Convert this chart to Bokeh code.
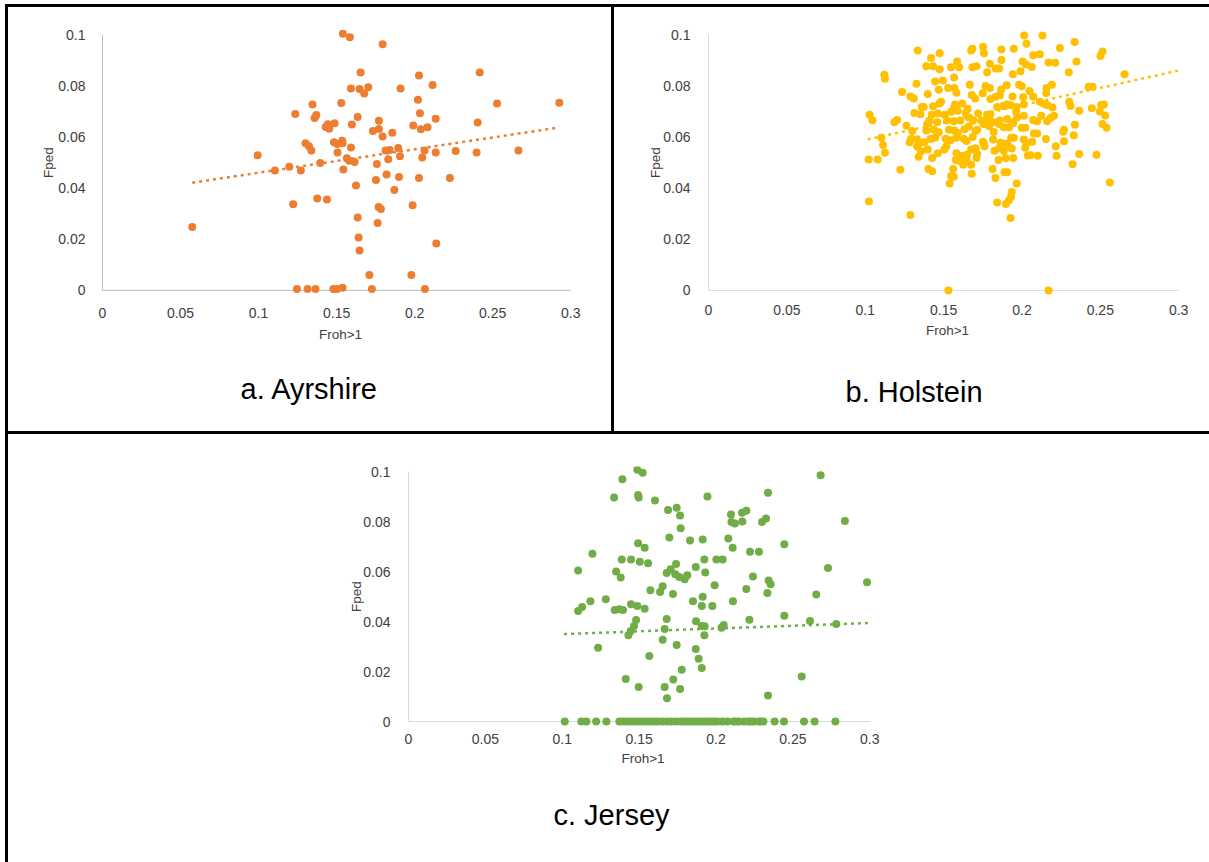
from bokeh.plotting import figure
from bokeh.models import Spacer, Title, NumeralTickFormatter, FixedTicker
from bokeh.layouts import row, column
from bokeh.embed import file_html
from bokeh.resources import INLINE

FONT = "Liberation Sans"
TEXT_COLOR = "#404040"

# Shared axis ticks
x_ticks = [0, 0.05, 0.1, 0.15, 0.2, 0.25, 0.3]
y_ticks = [0, 0.02, 0.04, 0.06, 0.08, 0.1]
x_title = "Froh>1"
y_title = "Fped"

# ---------------- Ayrshire ----------------
ayr_froh = [0.154, 0.1585, 0.1795, 0.1654, 0.2028, 0.2417, 0.2115, 0.1592, 0.1647, 0.1703,
            0.1677, 0.191, 0.1346, 0.153, 0.2021, 0.2528, 0.2927, 0.1235, 0.2034, 0.1359,
            0.137, 0.1635, 0.1771, 0.2135, 0.2404, 0.143, 0.1444, 0.1453, 0.1487, 0.1598,
            0.1733, 0.1771, 0.1795, 0.1857, 0.1991, 0.204, 0.2083, 0.1301, 0.1323, 0.1338,
            0.1483, 0.1504, 0.1536, 0.1538, 0.1506, 0.1592, 0.1566, 0.1581, 0.1615, 0.1543,
            0.1395, 0.1271, 0.1197, 0.1105, 0.0994, 0.0575, 0.1814, 0.184, 0.1895, 0.1906,
            0.1831, 0.1758, 0.2064, 0.2049, 0.2135, 0.2263, 0.2397, 0.2665, 0.182, 0.190,
            0.1752, 0.2028, 0.2226, 0.1624, 0.187, 0.1222, 0.1376, 0.1438, 0.1769, 0.1784,
            0.1987, 0.1635, 0.1763, 0.1641, 0.1647, 0.2139, 0.171, 0.1979,
            0.1246, 0.1314, 0.1365, 0.1479, 0.1502, 0.1538, 0.1726, 0.2066]
ayr_fped = [0.1003, 0.099, 0.0962, 0.0852, 0.0840, 0.0852, 0.0803, 0.0789, 0.0787, 0.0794,
            0.0770, 0.0789, 0.0727, 0.0733, 0.0745, 0.0731, 0.0734, 0.0690, 0.0693, 0.0674,
            0.0686, 0.0678, 0.0663, 0.0671, 0.0656, 0.0639, 0.0650, 0.0632, 0.0653, 0.0649,
            0.0623, 0.0631, 0.0602, 0.0616, 0.0645, 0.0630, 0.0638, 0.0575, 0.0564, 0.0547,
            0.0579, 0.0572, 0.0585, 0.0575, 0.0539, 0.0559, 0.0517, 0.0507, 0.0502, 0.0473,
            0.0498, 0.0469, 0.0483, 0.0469, 0.0528, 0.0248, 0.0547, 0.0549, 0.0557, 0.0524,
            0.0513, 0.0494, 0.0547, 0.0520, 0.0539, 0.0545, 0.0539, 0.0547, 0.0453, 0.0443,
            0.0432, 0.0439, 0.0439, 0.0410, 0.0392, 0.0337, 0.0359, 0.0355, 0.0326, 0.0318,
            0.0333, 0.0285, 0.0263, 0.0207, 0.0156, 0.0183, 0.0060, 0.0060,
            0.0005, 0.0005, 0.0005, 0.0005, 0.0005, 0.0010, 0.0005, 0.0005]
ayr_trend_x = [0.0575, 0.2927]
ayr_trend_y = [0.0421, 0.0637]

# ---------------- Holstein ----------------
hol_froh = [0.2014, 0.2131, 0.2029, 0.2336, 0.2242, 0.1335, 0.1475, 0.1684, 0.1676, 0.1752,
            0.1758, 0.1869, 0.1948, 0.2514, 0.2501, 0.2072, 0.2114, 0.1420, 0.1586, 0.1869,
            0.1795, 0.2004, 0.2027, 0.2063, 0.2170, 0.2212, 0.2348, 0.1390, 0.1433, 0.1475,
            0.1548, 0.1599, 0.1684, 0.1710, 0.1778, 0.1833, 0.1855, 0.1942, 0.1991, 0.2299,
            0.1122, 0.1126, 0.1567, 0.1446, 0.1495, 0.1667, 0.1767, 0.1795, 0.1867, 0.1903,
            0.1982, 0.1999, 0.2157, 0.2191, 0.1327, 0.1529, 0.1569, 0.1582, 0.1399, 0.1469,
            0.1235, 0.1288, 0.1310, 0.1680, 0.1701, 0.1750, 0.1799, 0.1833, 0.1859, 0.1940,
            0.2008, 0.2048, 0.2072, 0.2155, 0.2425, 0.2450, 0.2655, 0.1484, 0.1473, 0.1573,
            0.1618, 0.1569, 0.1654, 0.1361, 0.1373, 0.1433, 0.1314, 0.1352, 0.1424, 0.1463,
            0.1507, 0.1548, 0.1590, 0.1641, 0.1720, 0.1778, 0.1799, 0.1842, 0.1880, 0.1906,
            0.1927, 0.1965, 0.1963, 0.2012, 0.2114, 0.2140, 0.2161, 0.2195, 0.2302, 0.2310,
            0.2446, 0.2506, 0.2523, 0.2497, 0.2531, 0.2365, 0.1028, 0.1046, 0.1186, 0.1203,
            0.1263, 0.1410, 0.1395, 0.1459, 0.1522, 0.1565, 0.1607, 0.1661, 0.1689, 0.1740,
            0.1756, 0.1789, 0.1816, 0.1859, 0.1906, 0.1944, 0.1969, 0.2012, 0.2072, 0.2097,
            0.2123, 0.2161, 0.2182, 0.2204, 0.2514, 0.2540, 0.2338, 0.2268, 0.2263, 0.1301,
            0.1390, 0.1437, 0.1469, 0.1535, 0.1569, 0.1590, 0.1633, 0.1661, 0.1714, 0.1765,
            0.1791, 0.1820, 0.1854, 0.1884, 0.1918, 0.1944, 0.1999, 0.2021, 0.2076, 0.2097,
            0.1103, 0.1293, 0.1284, 0.1331, 0.1348, 0.1378, 0.1416, 0.1446, 0.1514, 0.1544,
            0.1580, 0.1629, 0.1646, 0.1686, 0.1705, 0.1752, 0.1816, 0.1863, 0.1901, 0.1931,
            0.1948, 0.2012, 0.2029, 0.2065, 0.2153, 0.2268, 0.2331, 0.1114, 0.1126, 0.1331,
            0.1356, 0.1399, 0.1463, 0.1518, 0.1505, 0.1582, 0.1618, 0.1650, 0.1676, 0.1705,
            0.1714, 0.1756, 0.1761, 0.1825, 0.1854, 0.1884, 0.1910, 0.1935, 0.2021, 0.2216,
            0.2038, 0.2055, 0.2101, 0.2221, 0.2365, 0.2476, 0.1022, 0.1080, 0.1341, 0.1427,
            0.1578, 0.1608, 0.1625, 0.1646, 0.1676, 0.1710, 0.1850, 0.1897, 0.1944, 0.1403,
            0.1427, 0.1561, 0.1224, 0.2323, 0.1680, 0.1812, 0.1888, 0.1906, 0.1548, 0.1565,
            0.1831, 0.1539, 0.1967, 0.2561, 0.1935, 0.1931, 0.1918, 0.1024, 0.1842, 0.1897,
            0.1927, 0.1288, 0.1531, 0.2170]
hol_fped = [0.0997, 0.0997, 0.0964, 0.0971, 0.0948, 0.0938, 0.0927, 0.0945, 0.0938, 0.0953,
            0.0927, 0.0942, 0.0945, 0.0934, 0.0916, 0.0919, 0.0923, 0.0909, 0.0895, 0.0901,
            0.0886, 0.0895, 0.0883, 0.0873, 0.0891, 0.0890, 0.0895, 0.0876, 0.0876, 0.0865,
            0.0872, 0.0872, 0.0872, 0.0876, 0.0853, 0.0868, 0.0868, 0.0845, 0.0857, 0.0853,
            0.0843, 0.0827, 0.0832, 0.0817, 0.0821, 0.0804, 0.0799, 0.0791, 0.0785, 0.0802,
            0.0804, 0.0798, 0.0791, 0.0804, 0.0808, 0.0791, 0.0791, 0.0773, 0.0768, 0.0784,
            0.0776, 0.0758, 0.0750, 0.0764, 0.0750, 0.0771, 0.0748, 0.0757, 0.0763, 0.0758,
            0.0755, 0.0780, 0.0757, 0.0772, 0.0796, 0.0796, 0.0845, 0.0738, 0.0731, 0.0727,
            0.0731, 0.0715, 0.0710, 0.0717, 0.0717, 0.0720, 0.0694, 0.0689, 0.0687, 0.0692,
            0.0687, 0.0698, 0.0702, 0.0694, 0.0692, 0.0687, 0.0689, 0.0717, 0.0721, 0.0727,
            0.0724, 0.0717, 0.0699, 0.0727, 0.0738, 0.0730, 0.0725, 0.0715, 0.0738, 0.0721,
            0.0712, 0.0725, 0.0727, 0.0699, 0.0684, 0.0702, 0.0687, 0.0665, 0.0657, 0.0666,
            0.0644, 0.0664, 0.0651, 0.0657, 0.0664, 0.0661, 0.0664, 0.0676, 0.0664, 0.0664,
            0.0651, 0.0674, 0.0657, 0.0664, 0.0670, 0.0657, 0.0676, 0.0683, 0.0666, 0.0661,
            0.0683, 0.0661, 0.0674, 0.0683, 0.0651, 0.0636, 0.0648, 0.0628, 0.0620, 0.0623,
            0.0625, 0.0628, 0.0618, 0.0628, 0.0625, 0.0615, 0.0630, 0.0641, 0.0628, 0.0651,
            0.0643, 0.0619, 0.0651, 0.0638, 0.0638, 0.0653, 0.0636, 0.0636, 0.0613, 0.0613,
            0.0597, 0.0593, 0.0579, 0.0591, 0.0577, 0.0579, 0.0592, 0.0597, 0.0593, 0.0587,
            0.0597, 0.0593, 0.0584, 0.0600, 0.0623, 0.0581, 0.0590, 0.0577, 0.0574, 0.0597,
            0.0597, 0.0590, 0.0574, 0.0581, 0.0592, 0.0583, 0.0607, 0.0568, 0.0538, 0.0563,
            0.0544, 0.0551, 0.0536, 0.0564, 0.0551, 0.0536, 0.0526, 0.0530, 0.0551, 0.0556,
            0.0533, 0.0574, 0.0564, 0.0546, 0.0555, 0.0545, 0.0567, 0.0555, 0.0558, 0.0564,
            0.0527, 0.0528, 0.0526, 0.0526, 0.0533, 0.0530, 0.0512, 0.0512, 0.0522, 0.0518,
            0.0510, 0.0505, 0.0491, 0.0508, 0.0491, 0.0518, 0.0510, 0.0517, 0.0518, 0.0475,
            0.0466, 0.0475, 0.0472, 0.0493, 0.0456, 0.0475, 0.0462, 0.0462, 0.0447, 0.0444,
            0.0439, 0.0418, 0.0418, 0.0422, 0.0385, 0.0367, 0.0352, 0.0348, 0.0344, 0.0338,
            0.0283, 0.0295, 0.0, 0.0]
hol_trend_x = [0.1016, 0.2995]
hol_trend_y = [0.0590, 0.0859]

# ---------------- Jersey ----------------
jer_froh = [0.1488, 0.1523, 0.1391, 0.2680, 0.1337, 0.1493, 0.1497, 0.1603, 0.1944, 0.2338,
            0.1688, 0.1744, 0.1766, 0.1770, 0.2097, 0.2100, 0.2123, 0.2169, 0.2197, 0.2171,
            0.2299, 0.2325, 0.2838, 0.1696, 0.1831, 0.1913, 0.2080, 0.2108, 0.2444, 0.1493,
            0.1536, 0.1196, 0.1387, 0.1447, 0.1504, 0.1558, 0.2221, 0.2279, 0.1924, 0.2002,
            0.2043, 0.1103, 0.1350, 0.1380, 0.1679, 0.1705, 0.1740, 0.1735, 0.1761, 0.1796,
            0.1813, 0.1868, 0.1930, 0.1991, 0.2240, 0.2342, 0.2355, 0.2728, 0.2982, 0.1573,
            0.1636, 0.1653, 0.1720, 0.2197, 0.2334, 0.2652, 0.1103, 0.1129, 0.1183, 0.1283,
            0.1341, 0.1371, 0.1395, 0.1447, 0.1488, 0.1536, 0.1850, 0.1913, 0.1907, 0.1976,
            0.2110, 0.2444, 0.2611, 0.2782, 0.1480, 0.1467, 0.1445, 0.1430, 0.1679, 0.1666,
            0.1653, 0.1870, 0.1907, 0.1926, 0.1924, 0.2035, 0.2050, 0.2217, 0.1744, 0.1233,
            0.1566, 0.1868, 0.1887, 0.1907, 0.1413, 0.1497, 0.1666, 0.1681, 0.1722, 0.1766,
            0.1777, 0.2557, 0.2338,
            0.1016, 0.1124, 0.1157, 0.1220, 0.1287, 0.1371, 0.1393, 0.1419, 0.1445, 0.1471,
            0.1497, 0.1521, 0.1549, 0.1575, 0.1601, 0.1623, 0.1653, 0.1683, 0.1709, 0.1742,
            0.1770, 0.1792, 0.1813, 0.1835, 0.1857, 0.1878, 0.1900, 0.1922, 0.1944, 0.1965,
            0.1987, 0.2009, 0.2041, 0.2074, 0.2113, 0.2128, 0.2149, 0.2182, 0.2210, 0.2225,
            0.2247, 0.2279, 0.2290, 0.2308, 0.2381, 0.2442, 0.2572, 0.2641, 0.2776]
jer_fped = [0.1007, 0.0995, 0.0969, 0.0985, 0.0896, 0.0906, 0.0896, 0.0884, 0.0900, 0.0915,
            0.0846, 0.0855, 0.0824, 0.0773, 0.0828, 0.0798, 0.0792, 0.0835, 0.0843, 0.0800,
            0.0798, 0.0812, 0.0802, 0.0736, 0.0724, 0.0728, 0.0732, 0.0695, 0.0709, 0.0713,
            0.0695, 0.0671, 0.0648, 0.0648, 0.0639, 0.0633, 0.0679, 0.0679, 0.0648, 0.0648,
            0.0648, 0.0604, 0.0600, 0.0576, 0.0594, 0.0609, 0.0630, 0.0589, 0.0578, 0.0569,
            0.0585, 0.0618, 0.0596, 0.0545, 0.0580, 0.0564, 0.0549, 0.0614, 0.0557, 0.0525,
            0.0518, 0.0541, 0.0510, 0.0530, 0.0514, 0.0508, 0.0442, 0.0458, 0.0481, 0.0489,
            0.0446, 0.0449, 0.0446, 0.0469, 0.0462, 0.0451, 0.0481, 0.0499, 0.0462, 0.0462,
            0.0481, 0.0423, 0.0402, 0.0390, 0.0406, 0.0382, 0.0362, 0.0345, 0.0410, 0.0370,
            0.0327, 0.0401, 0.0382, 0.0381, 0.0345, 0.0375, 0.0386, 0.0407, 0.0306, 0.0295,
            0.0262, 0.0290, 0.0251, 0.0214, 0.0170, 0.0138, 0.0138, 0.0093, 0.0168, 0.0130,
            0.0207, 0.0180, 0.0104,
            0.0, 0.0, 0.0, 0.0, 0.0, 0.0, 0.0, 0.0, 0.0, 0.0,
            0.0, 0.0, 0.0, 0.0, 0.0, 0.0, 0.0, 0.0, 0.0, 0.0,
            0.0, 0.0, 0.0, 0.0, 0.0, 0.0, 0.0, 0.0, 0.0, 0.0,
            0.0, 0.0, 0.0, 0.0, 0.0, 0.0, 0.0, 0.0, 0.0, 0.0,
            0.0, 0.0, 0.0, 0.0, 0.0, 0.0, 0.0, 0.0, 0.0]
jer_trend_x = [0.1012, 0.3000]
jer_trend_y = [0.0350, 0.0394]


def panel(width, height, borders, froh, fped, trend_x, trend_y, color, axis_color,
          x_standoff, x_title_standoff, y_standoff, y_title_standoff,
          caption, cap_offset, cap_gap):
    left, right, top, bottom = borders
    p = figure(width=width, height=height, x_range=(0, 0.305), y_range=(-0.002, 0.102),
               output_backend="svg", toolbar_location=None, title=None,
               min_border_left=left, min_border_right=right,
               min_border_top=top, min_border_bottom=bottom)
    p.grid.visible = False
    p.outline_line_color = None
    p.background_fill_color = "white"
    p.border_fill_color = "white"

    fmt = "0.[00]"
    # horizontal axis: labels only, the zero line is drawn below as a glyph
    xa = p.xaxis[0]
    xa.ticker = FixedTicker(ticks=x_ticks)
    xa.formatter = NumeralTickFormatter(format=fmt)
    xa.axis_line_color = None
    xa.major_tick_line_color = None
    xa.minor_tick_line_color = None
    xa.major_label_standoff = x_standoff
    xa.axis_label = x_title
    xa.axis_label_standoff = x_title_standoff

    ya = p.yaxis[0]
    ya.ticker = FixedTicker(ticks=y_ticks)
    ya.formatter = NumeralTickFormatter(format=fmt)
    ya.bounds = (y_ticks[0], y_ticks[-1])
    ya.axis_line_color = axis_color
    ya.axis_line_width = 1
    ya.major_tick_line_color = None
    ya.minor_tick_line_color = None
    ya.major_label_standoff = y_standoff
    ya.axis_label = y_title
    ya.axis_label_standoff = y_title_standoff

    for ax in (xa, ya):
        ax.major_label_text_font = FONT
        ax.major_label_text_font_size = "14px"
        ax.major_label_text_color = TEXT_COLOR
        ax.axis_label_text_font = FONT
        ax.axis_label_text_font_size = "13.5px"
        ax.axis_label_text_font_style = "normal"
        ax.axis_label_text_color = TEXT_COLOR

    # value axis baseline at Fped = 0
    p.line(x=[x_ticks[0], x_ticks[-1]], y=[y_ticks[0], y_ticks[0]],
           line_color=axis_color, line_width=1)

    p.scatter(x=froh, y=fped, size=8, fill_color=color, line_color=None)

    p.line(x=trend_x, y=trend_y, line_color=color, line_width=2.5, line_dash="3 4")

    # gap between the axis title and the caption
    p.add_layout(Title(text=" ", text_font_size="1px", standoff=cap_gap), "below")
    # panel caption under the chart
    p.add_layout(Title(text=caption, align="left", offset=cap_offset, standoff=0,
                       text_font=FONT, text_font_size="29px", text_font_style="normal",
                       text_color="black"), "below")
    return p


p1 = panel(603, 424, (94, 33, 22, 131), ayr_froh, ayr_fped, ayr_trend_x, ayr_trend_y,
           "#ED7D31", "#bfbfbf", 6, 6, 11, -1, "a. Ayrshire", 138, 23)
p2 = panel(595, 424, (94, 23, 17, 136), hol_froh, hol_fped, hol_trend_x, hol_trend_y,
           "#FFC000", "#d9d9d9", 3, 5, 12, -3, "b. Holstein", 137, 30)
p3 = panel(1201, 428, (400, 332, 32, 136), jer_froh, jer_fped, jer_trend_x, jer_trend_y,
           "#70AD47", "#d9d9d9", 1, 4, 12, -4, "c. Jersey", 145, 25)


def rule(w, h):
    return Spacer(width=w, height=h, styles={"background-color": "black"})


def blank(w, h):
    return Spacer(width=w, height=h)


page = column(
    blank(1209, 4),
    row(blank(5, 3), rule(1204, 3)),
    row(blank(5, 424), rule(3, 424), p1, rule(3, 424), p2),
    row(blank(5, 3), rule(1204, 3)),
    row(blank(5, 428), rule(3, 428), p3),
)

with open("out.html", "w") as f:
    f.write(file_html(page, INLINE))
